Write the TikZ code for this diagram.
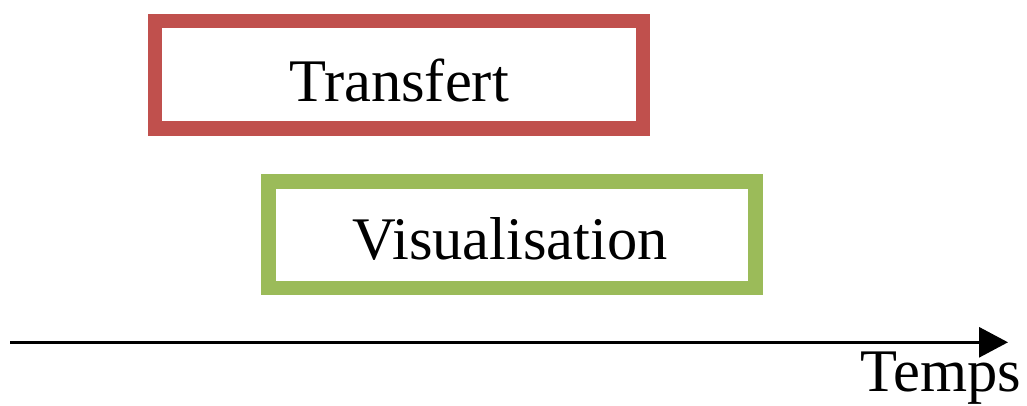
\documentclass[tikz,border=0pt]{standalone}
\usepackage{fontspec}
\setmainfont{Liberation Serif}
\usetikzlibrary{arrows.meta}
\definecolor{boxred}{HTML}{C0504D}
\definecolor{boxgreen}{HTML}{9BBB59}
\begin{document}
\begin{tikzpicture}[x=1pt,y=-1pt,
  lbl/.style={inner sep=0pt,anchor=base,font=\fontsize{60.5}{68}\selectfont},
  frame/.style={line width=14.5pt}]
\useasboundingbox (0,0) rectangle (1027,405);
\draw[frame,boxred] (155,20.8) rectangle (643,128.3);
\draw[frame,boxgreen] (268.3,181.3) rectangle (755.5,287.8);
\node[lbl] (tr) at (399,101) {Transfert};
\node[lbl] (vi) at (510,259) {Visualisation};
\coordinate (a0) at (10,342.3);
\coordinate (a1) at (1008,342.3);
\draw[line width=3pt,-{Triangle[length=29pt,width=30pt]}] (a0) -- (a1);
\node[lbl] (tp) at (941,391.5) {Temps};
\end{tikzpicture}
\end{document}
